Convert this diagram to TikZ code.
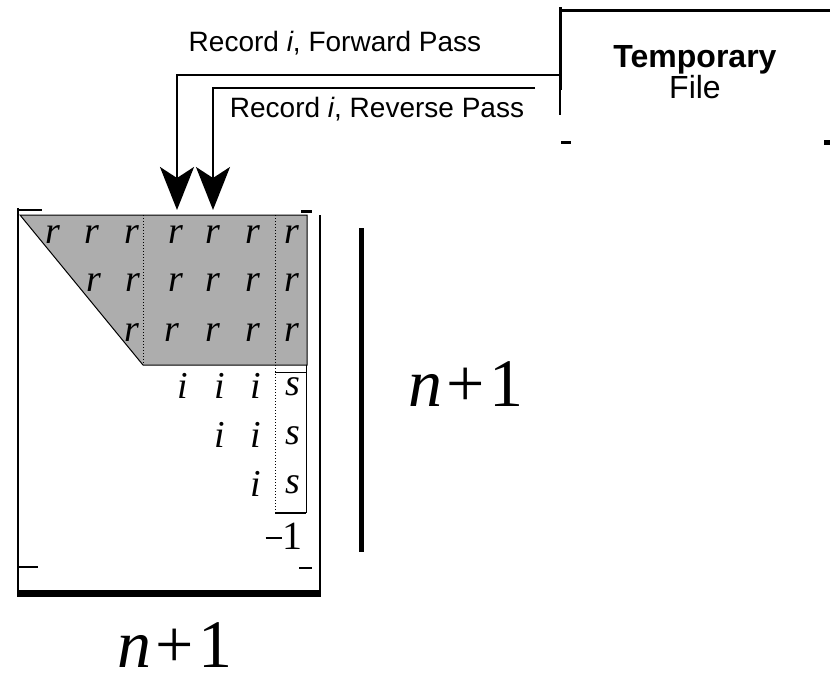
\documentclass[tikz,border=0pt]{standalone}
\usepackage{fontspec}
\setmainfont{Liberation Sans}
\newfontfamily\tms{Liberation Serif}
\usetikzlibrary{arrows.meta}

\tikzset{
  lbl/.style={font=\fontsize{28}{32}\selectfont, anchor=base, inner sep=0pt},
  ent/.style={font=\tms\itshape\fontsize{38}{38}\selectfont, inner sep=0pt},
  num/.style={font=\tms\fontsize{40}{40}\selectfont, inner sep=0pt},
  dimlbl/.style={font=\tms\fontsize{68}{68}\selectfont, anchor=base, inner sep=0pt},
  feed/.style={-{Stealth[length=43pt,width=34pt,inset=11pt]}, line width=2.4pt},
  frame/.style={line width=2pt},
  shade/.style={fill=black!32, draw=black, line width=1pt},
  sep/.style={dotted, line width=1pt}
}

\begin{document}
\begin{tikzpicture}[x=1pt, y=-1pt]
\useasboundingbox (0,0) rectangle (830,681);

% temporary file box
\node[font=\fontsize{32}{36}\selectfont, align=center, inner sep=0pt] (tf) at (695,72)
  {\textbf{Temporary}\\[-5pt]File};
\draw[line width=3pt] (560,7) -- (560,90);
\draw[line width=1.5pt] (560,90) -- (560,115);
\draw[line width=3pt] (559,10) -- (830,10);
\draw[line width=3pt] (561,142) -- (571,142);
\draw[line width=5pt] (824,142) -- (830,142);

% passes from the file into the matrix
\coordinate (fwdsrc) at (560,75);
\coordinate (revsrc) at (535,88);
\coordinate (fwdtip) at (177,210);
\coordinate (revtip) at (213,210);
\draw[feed] (fwdsrc) -| (fwdtip);
\draw[feed, line width=2pt] (revsrc) -| (revtip);
\node[lbl] (fwdlbl) at (335,51) {Record \textit{i}, Forward Pass};
\node[lbl] (revlbl) at (377,117) {Record \textit{i}, Reverse Pass};

% shaded block of r entries
\draw[shade] (20,215) -- (307,215) -- (307,365) -- (143,365) -- cycle;
\draw[sep] (143,215) -- (143,365);
\draw[sep] (275,215) -- (275,513);
\draw[line width=0.8pt] (306,365) -- (306,513);
\draw[line width=0.6pt] (275,372) -- (306,372);
\draw[line width=1.6pt] (275,513) -- (306,513);

% matrix frame
\draw[frame] (18,208) -- (18,597);
\draw[line width=1.5pt] (320,215) -- (320,597);
\draw[frame] (18,210) -- (42,210);
\draw[line width=3pt] (301,211) -- (312,211);
\draw[frame] (18,567) -- (38,567);
\draw[line width=2.5pt] (299,568) -- (312,568);
\draw[line width=7pt] (17,593.5) -- (320,593.5);

% entries
\foreach \x/\n in {53/a,92/b,132/c,176/d,213/e,253/f,292/g}
  \node[ent] (r1\n) at (\x,235) {r};
\foreach \x/\n in {94/b,133/c,176/d,213/e,253/f,292/g}
  \node[ent] (r2\n) at (\x,283) {r};
\foreach \x/\n in {132/c,172/d,213/e,253/f,292/g}
  \node[ent] (r3\n) at (\x,333) {r};
\foreach \x/\n in {183/d,220/e,256/f}
  \node[ent] (i1\n) at (\x,386) {i};
\foreach \x/\n in {220/e,256/f}
  \node[ent] (i2\n) at (\x,435) {i};
\node[ent] (i3f) at (256,484) {i};
\foreach \y/\n in {387/1,436/2,485/3}
  \node[ent] (s\n) at (293,\y) {s};
\node[num] (m1) at (284,536) {\rule[0.25em]{0.42em}{0.045em}1};

% dimension marks
\draw[line width=5pt] (361,228) -- (361,552);
\node[dimlbl] (nrow) at (466,406) {\textit{n}\hspace{0.06em}+\hspace{0.06em}1};
\node[dimlbl] (ncol) at (175,667) {\textit{n}\hspace{0.06em}+\hspace{0.06em}1};
\end{tikzpicture}
\end{document}
